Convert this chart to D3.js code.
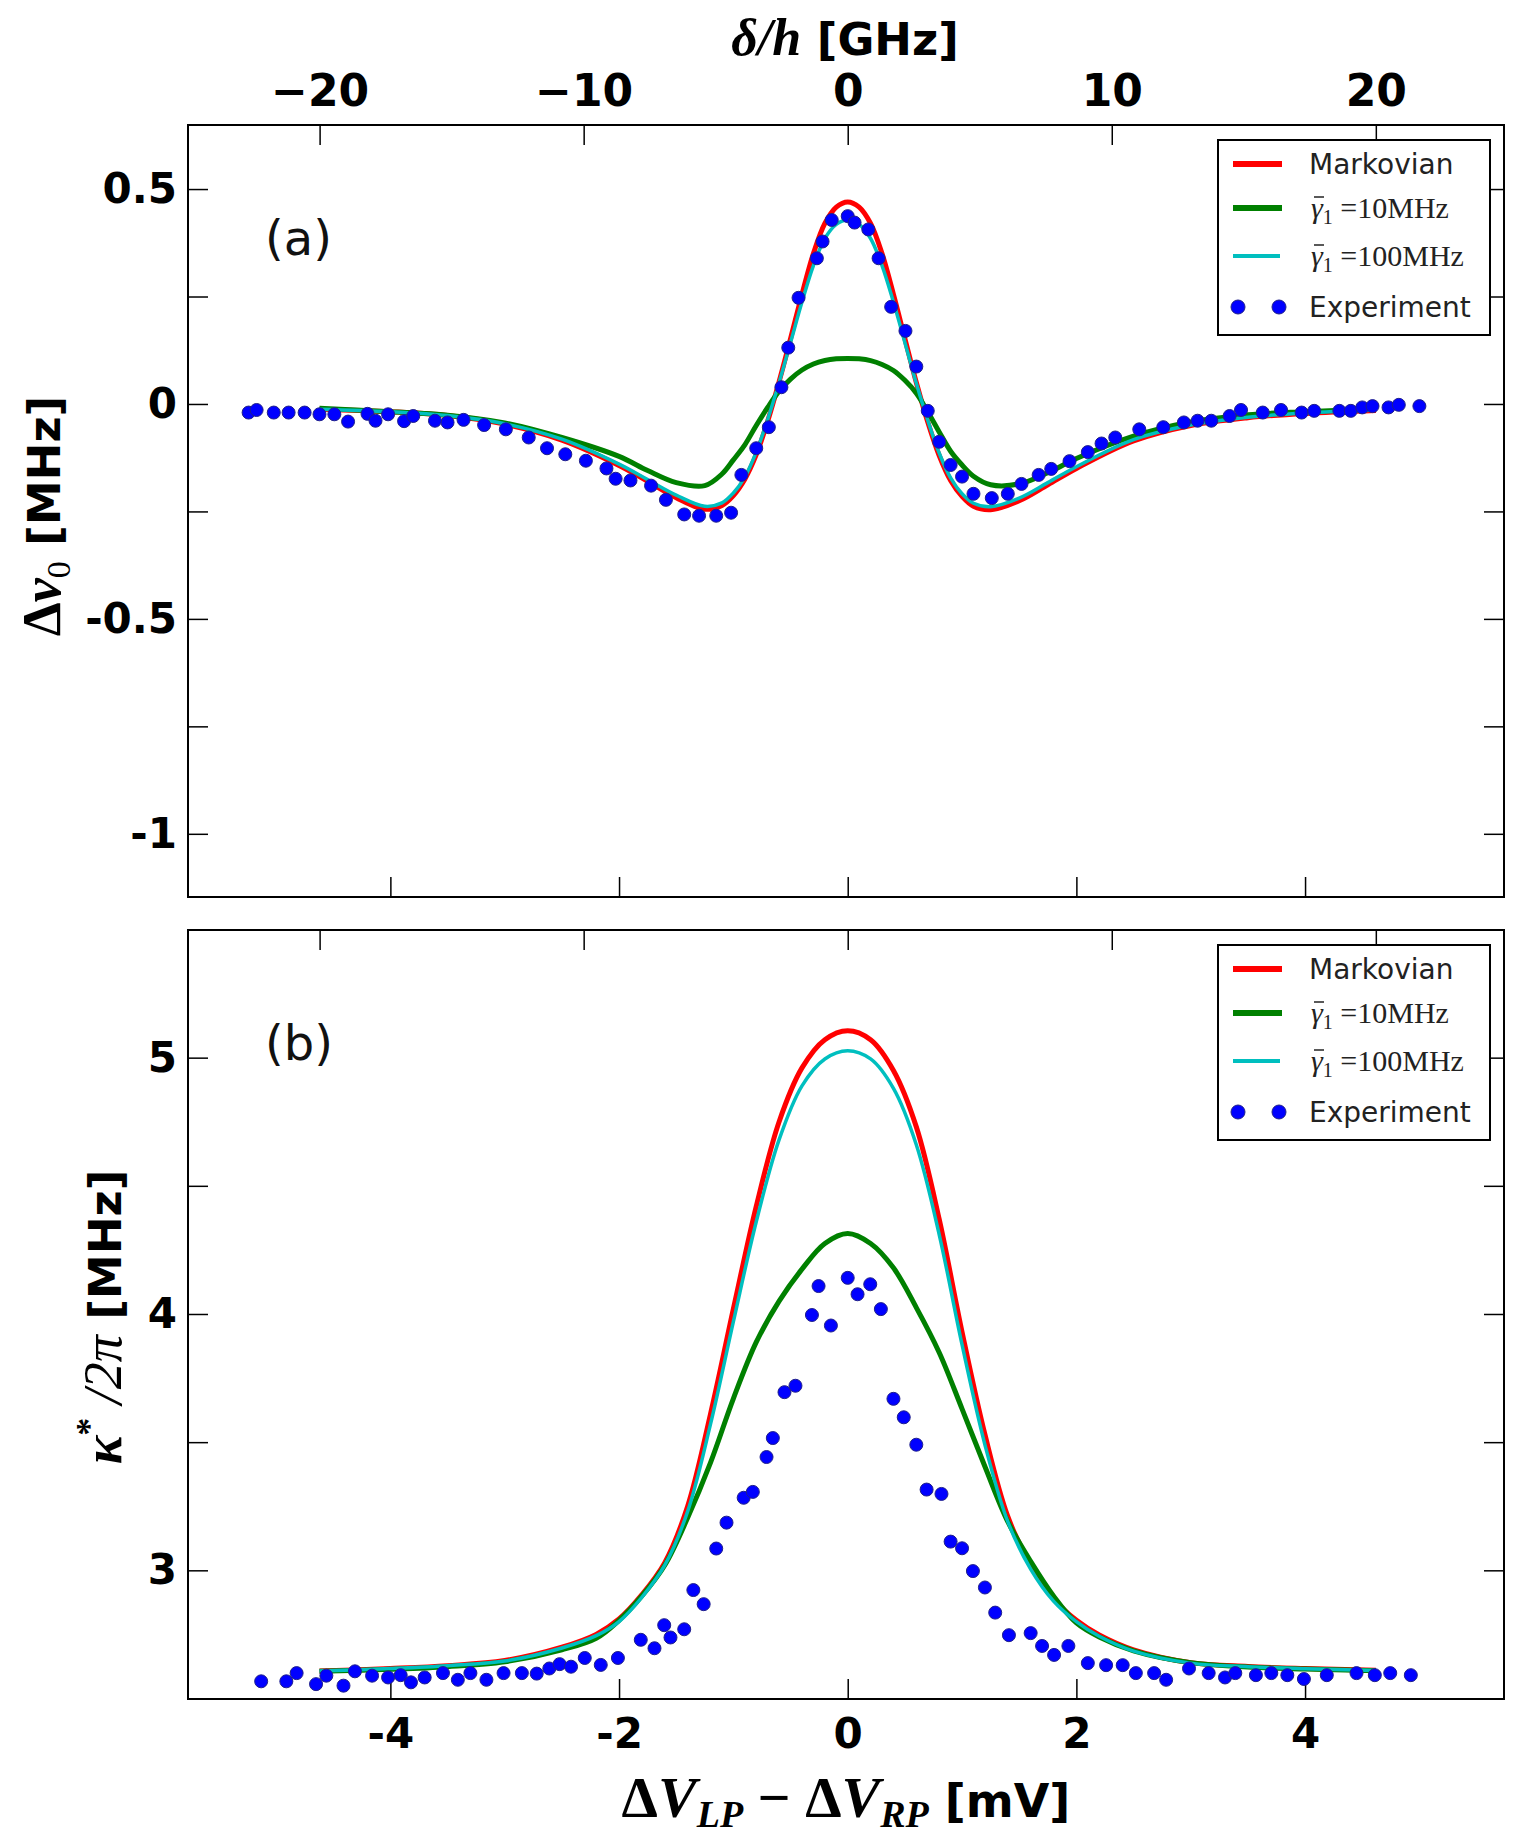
<!DOCTYPE html>
<html>
<head>
<meta charset="utf-8">
<script src="https://cdn.jsdelivr.net/npm/d3@7"></script>
<style>
  html, body { margin: 0; padding: 0; background: #fff; }
  svg { display: block; }
  text { white-space: pre; }
</style>
</head>
<body>
<div id="chart"></div>
<script>
// --- data (x in mV) ---
var GHZ_PER_MV = 4.33;
var MV_TICKS = [-4, -2, 0, 2, 4];
var GHZ_TICKS = [-20, -10, 0, 10, 20];
var TOP_Y_TICKS = [-1, -0.75, -0.5, -0.25, 0, 0.25, 0.5];
var BOT_Y_TICKS = [3, 3.5, 4, 4.5, 5];
var SERIES = ["Markovian", "10MHz", "100MHz", "Experiment"];

// panel (a): frequency shift
var TOP_X = [-4.62,-4.0,-3.5,-3.0,-2.5,-2.0,-1.75,-1.5,-1.25,-1.1,-1.0,-0.9,-0.8,-0.7,-0.6,-0.5,-0.4,-0.3,-0.2,-0.1,0,
             0.1,0.2,0.3,0.4,0.5,0.6,0.7,0.8,0.9,1.0,1.1,1.25,1.5,1.75,2.0,2.5,3.0,3.5,4.0,4.62];
var TOP_MARKOV = [-0.012,-0.018,-0.027,-0.047,-0.084,-0.143,-0.180,-0.218,-0.245,-0.236,-0.213,-0.175,-0.118,-0.040,0.052,0.152,0.255,0.350,0.420,0.458,0.470,
                  0.458,0.420,0.350,0.255,0.152,0.050,-0.042,-0.120,-0.178,-0.215,-0.238,-0.246,-0.225,-0.188,-0.150,-0.086,-0.050,-0.032,-0.022,-0.015];
var TOP_G10 = [-0.010,-0.018,-0.026,-0.044,-0.078,-0.122,-0.155,-0.183,-0.190,-0.163,-0.130,-0.095,-0.050,-0.008,0.030,0.058,0.079,0.093,0.101,0.105,0.106,
               0.105,0.101,0.092,0.078,0.055,0.025,-0.018,-0.065,-0.110,-0.142,-0.168,-0.188,-0.186,-0.160,-0.127,-0.075,-0.042,-0.025,-0.018,-0.012];
var TOP_G100 = [-0.012,-0.018,-0.027,-0.046,-0.082,-0.140,-0.176,-0.212,-0.238,-0.230,-0.207,-0.170,-0.112,-0.036,0.050,0.143,0.237,0.322,0.385,0.418,0.428,
                0.418,0.385,0.322,0.237,0.143,0.048,-0.038,-0.114,-0.172,-0.209,-0.231,-0.239,-0.219,-0.183,-0.146,-0.083,-0.049,-0.031,-0.021,-0.014];
var TOP_EXP_X = [-5.24,-5.17,-5.02,-4.89,-4.75,-4.62,-4.49,-4.37,-4.20,-4.13,-4.02,-3.88,-3.80,-3.61,-3.50,-3.36,-3.18,-2.99,-2.79,-2.63,
                 -2.47,-2.29,-2.11,-2.03,-1.90,-1.72,-1.59,-1.43,-1.30,-1.15,-1.02,-0.93,-0.80,-0.69,-0.58,-0.52,-0.43,-0.27,-0.22,-0.14,
                 0.00,0.06,0.18,0.27,0.38,0.505,0.60,0.70,0.80,0.90,1.00,1.10,1.26,1.40,1.52,1.67,1.78,1.94,2.10,2.22,
                 2.34,2.55,2.76,2.94,3.06,3.18,3.34,3.44,3.63,3.79,3.97,4.08,4.30,4.40,4.50,4.59,4.73,4.82,5.00];
var TOP_EXP_Y = [-0.020,-0.014,-0.020,-0.020,-0.020,-0.024,-0.024,-0.041,-0.023,-0.039,-0.024,-0.040,-0.028,-0.039,-0.043,-0.037,-0.049,-0.059,-0.078,-0.103,
                 -0.117,-0.132,-0.150,-0.174,-0.178,-0.190,-0.223,-0.257,-0.260,-0.260,-0.253,-0.165,-0.103,-0.054,0.039,0.131,0.247,0.339,0.378,0.428,
                 0.437,0.422,0.406,0.339,0.226,0.170,0.087,-0.016,-0.088,-0.142,-0.169,-0.209,-0.219,-0.209,-0.186,-0.165,-0.151,-0.133,-0.112,-0.092,
                 -0.078,-0.059,-0.054,-0.043,-0.039,-0.039,-0.028,-0.014,-0.020,-0.014,-0.020,-0.016,-0.016,-0.016,-0.008,-0.005,-0.008,-0.002,-0.005];

// panel (b): linewidth
var BOT_X = [-4.62,-4,-3.5,-3,-2.5,-2.2,-2,-1.8,-1.6,-1.4,-1.2,-1,-0.8,-0.6,-0.4,-0.2,0,
             0.2,0.4,0.6,0.8,1,1.2,1.4,1.6,1.8,2,2.2,2.5,3,3.5,4,4.62];
var BOT_MARKOV = [2.607,2.617,2.628,2.648,2.700,2.750,2.810,2.905,3.030,3.250,3.610,4.020,4.420,4.750,4.960,5.070,5.105,
                  5.070,4.950,4.730,4.370,3.930,3.530,3.210,3.020,2.890,2.805,2.748,2.690,2.640,2.625,2.617,2.610];
var BOT_G10 = [2.606,2.614,2.624,2.643,2.690,2.735,2.805,2.900,3.020,3.205,3.420,3.670,3.890,4.050,4.175,4.275,4.314,
               4.275,4.180,4.025,3.850,3.630,3.405,3.190,3.035,2.900,2.795,2.740,2.686,2.640,2.623,2.615,2.608];
var BOT_G100 = [2.607,2.617,2.628,2.646,2.697,2.745,2.800,2.895,3.020,3.230,3.570,3.970,4.360,4.680,4.890,4.995,5.027,
                4.995,4.880,4.660,4.310,3.880,3.490,3.190,3.005,2.880,2.800,2.743,2.685,2.638,2.624,2.616,2.609];
var BOT_EXP_X = [-5.13,-4.91,-4.82,-4.65,-4.56,-4.41,-4.31,-4.16,-4.02,-3.91,-3.82,-3.70,-3.54,-3.41,-3.30,-3.16,-3.01,-2.85,-2.72,-2.61,
                 -2.52,-2.42,-2.30,-2.16,-2.01,-1.81,-1.69,-1.605,-1.55,-1.43,-1.35,-1.26,-1.15,-1.06,-0.91,-0.83,-0.71,-0.655,-0.553,-0.457,
                 -0.313,-0.255,-0.147,0.0,0.086,0.197,0.29,0.40,0.49,0.60,0.69,0.82,0.90,1.00,1.095,1.20,1.29,1.41,1.60,1.70,
                 1.805,1.93,2.10,2.26,2.405,2.52,2.68,2.785,2.985,3.157,3.30,3.39,3.57,3.705,3.845,3.99,4.19,4.45,4.61,4.745,4.925];
var BOT_EXP_Y = [2.567,2.567,2.599,2.556,2.589,2.550,2.606,2.589,2.582,2.591,2.563,2.582,2.599,2.573,2.599,2.573,2.599,2.599,2.597,2.617,
                 2.634,2.624,2.658,2.631,2.658,2.729,2.696,2.786,2.738,2.770,2.923,2.868,3.085,3.186,3.283,3.306,3.442,3.516,3.695,3.720,
                 3.996,4.109,3.955,4.141,4.077,4.116,4.019,3.669,3.597,3.490,3.315,3.298,3.112,3.086,2.997,2.933,2.835,2.747,2.755,2.705,
                 2.670,2.705,2.638,2.630,2.630,2.599,2.599,2.573,2.617,2.599,2.582,2.599,2.591,2.599,2.591,2.576,2.591,2.599,2.591,2.599,2.591];

var COLORS = ["#ff0000", "#008000", "#00bfbf", "#0000ff"];
var WIDTHS = [5, 5, 3.5];

var svg = d3.select("#chart")
  .append("svg")
    .attr("width", 1517)
    .attr("height", 1844);

var x = d3.scaleLinear().domain([-5.77, 5.74]).range([188, 1504]);
var xG = d3.scaleLinear().domain([-5.77 * GHZ_PER_MV, 5.74 * GHZ_PER_MV]).range([188, 1504]);

function styleAxis(g) {
  g.attr("font-family", "DejaVu Sans").attr("font-weight", "bold").attr("font-size", 42);
  g.select(".domain").remove();
  g.selectAll(".tick line").attr("stroke", "#000").attr("stroke-width", 1.5);
  g.selectAll(".tick text").attr("fill", "#000");
}

function panel(opts) {
  var y = d3.scaleLinear().domain(opts.domain).range([opts.bottom, opts.top]);

  svg.append("g")
    .attr("transform", "translate(0," + opts.bottom + ")")
    .call(d3.axisBottom(x).tickValues(MV_TICKS).tickSize(-20).tickPadding(19)
      .tickFormat(d => opts.xLabels ? String(d) : ""))
    .call(styleAxis);
  svg.append("g")
    .attr("transform", "translate(0," + opts.top + ")")
    .call(d3.axisTop(xG).tickValues(GHZ_TICKS).tickSize(-20).tickPadding(19)
      .tickFormat(d => opts.gLabels ? (d < 0 ? "\u2212" + (-d) : String(d)) : ""))
    .call(styleAxis)
    .attr("font-size", 44);
  svg.append("g")
    .attr("transform", "translate(188,0)")
    .call(d3.axisLeft(y).tickValues(opts.yTicks).tickSize(-20).tickPadding(11)
      .tickFormat(opts.yFormat))
    .call(styleAxis);
  svg.append("g")
    .attr("transform", "translate(1504,0)")
    .call(d3.axisRight(y).tickValues(opts.yTicks).tickSize(-20).tickFormat(""))
    .call(styleAxis);

  var line = d3.line()
    .x(d => x(d[0]))
    .y(d => y(d[1]))
    .curve(d3.curveCatmullRom.alpha(0.5));

  opts.lines.forEach(function(vals, i) {
    svg.append("path")
      .datum(d3.zip(opts.lx, vals))
      .attr("fill", "none")
      .attr("stroke", COLORS[i])
      .attr("stroke-width", WIDTHS[i])
      .attr("stroke-linejoin", "round")
      .attr("d", line);
  });

  svg.append("g")
    .selectAll("circle")
    .data(d3.zip(opts.ex, opts.ey))
    .join("circle")
      .attr("cx", d => x(d[0]))
      .attr("cy", d => y(d[1]))
      .attr("r", 6.5)
      .attr("fill", COLORS[3])
      .attr("stroke", "#20208a")
      .attr("stroke-width", 1);

  svg.append("rect")
    .attr("x", 188).attr("y", opts.top)
    .attr("width", 1504 - 188).attr("height", opts.bottom - opts.top)
    .attr("fill", "none").attr("stroke", "#000").attr("stroke-width", 2);

  svg.append("text")
    .attr("x", 265).attr("y", opts.top + 130)
    .attr("font-family", "DejaVu Sans").attr("font-size", 48).attr("fill", "#111")
    .text(opts.tag);

  legend(opts.legendTop);
}

function legend(top) {
  var g = svg.append("g");
  g.append("rect")
    .attr("x", 1218).attr("y", top).attr("width", 272).attr("height", 195)
    .attr("fill", "#fff").attr("stroke", "#000").attr("stroke-width", 2);
  var rows = [24, 68, 116, 167];
  SERIES.forEach(function(name, i) {
    var ry = top + rows[i];
    if (i < 3) {
      g.append("line")
        .attr("x1", 1233).attr("x2", i == 2 ? 1280 : 1282)
        .attr("y1", ry).attr("y2", ry)
        .attr("stroke", COLORS[i]).attr("stroke-width", i == 2 ? 4 : 6);
    } else {
      [1238, 1279].forEach(cx => g.append("circle")
        .attr("cx", cx).attr("cy", ry).attr("r", 7)
        .attr("fill", COLORS[3]).attr("stroke", "#20208a"));
    }
    if (i == 0 || i == 3) {
      g.append("text").attr("x", 1309).attr("y", ry + 10).attr("fill", "#222")
        .attr("font-family", "DejaVu Sans").attr("font-size", 28).text(name);
    } else {
      var t = g.append("text").attr("x", 1311).attr("y", ry + 10).attr("fill", "#222")
        .attr("font-family", "Liberation Serif").attr("font-size", 30);
      t.append("tspan").attr("font-style", "italic").text("\u03B3");
      t.append("tspan").attr("font-size", 20).attr("dy", 6).text("1");
      t.append("tspan").attr("dy", -6).text(" =" + name);
      // bar over gamma
      g.append("line")
        .attr("x1", 1314).attr("x2", 1324)
        .attr("y1", ry - 11).attr("y2", ry - 11)
        .attr("stroke", "#222").attr("stroke-width", 1.5);
    }
  });
}

panel({
  top: 125, bottom: 897, domain: [-1.147, 0.649],
  yTicks: TOP_Y_TICKS,
  yFormat: d => Math.abs(d * 2 - Math.round(d * 2)) < 1e-9 ? String(d) : "",
  xLabels: false, gLabels: true,
  lx: TOP_X, lines: [TOP_MARKOV, TOP_G10, TOP_G100],
  ex: TOP_EXP_X, ey: TOP_EXP_Y,
  tag: "(a)", legendTop: 140
});

panel({
  top: 930, bottom: 1699, domain: [2.498, 5.498],
  yTicks: BOT_Y_TICKS,
  yFormat: d => Number.isInteger(d) ? String(d) : "",
  xLabels: true, gLabels: false,
  lx: BOT_X, lines: [BOT_MARKOV, BOT_G10, BOT_G100],
  ex: BOT_EXP_X, ey: BOT_EXP_Y,
  tag: "(b)", legendTop: 945
});

// axis titles
var tt = svg.append("text").attr("x", 845).attr("y", 55).attr("text-anchor", "middle").attr("fill", "#000");
tt.append("tspan").attr("font-family", "Liberation Serif").attr("font-style", "italic").attr("font-weight", "bold")
  .attr("font-size", 52).text("\u03B4/h");
tt.append("tspan").attr("font-family", "DejaVu Sans").attr("font-weight", "bold").attr("font-size", 45).text(" [GHz]");

var bt = svg.append("text").attr("x", 846).attr("y", 1817).attr("text-anchor", "middle").attr("fill", "#000")
  .attr("font-family", "Liberation Serif").attr("font-weight", "bold").attr("font-size", 58);
bt.append("tspan").text("\u0394");
bt.append("tspan").attr("font-style", "italic").text("V");
bt.append("tspan").attr("font-style", "italic").attr("font-size", 38).attr("dy", 10).text("LP");
bt.append("tspan").attr("dy", -10).text(" \u2212 \u0394");
bt.append("tspan").attr("font-style", "italic").text("V");
bt.append("tspan").attr("font-style", "italic").attr("font-size", 38).attr("dy", 10).text("RP");
bt.append("tspan").attr("dy", -10).attr("font-family", "DejaVu Sans").attr("font-size", 46).text(" [mV]");

var ly = svg.append("text").attr("transform", "translate(60,516) rotate(-90)")
  .attr("text-anchor", "middle").attr("fill", "#000").attr("font-family", "Liberation Serif").attr("font-size", 54);
ly.append("tspan").attr("font-weight", "bold").text("\u0394");
ly.append("tspan").attr("font-style", "italic").attr("font-weight", "bold").text("\u03BD");
ly.append("tspan").attr("font-size", 34).attr("dy", 10).text("0");
ly.append("tspan").attr("dy", -10).attr("font-family", "DejaVu Sans").attr("font-weight", "bold").attr("font-size", 45).text(" [MHz]");

var ly2 = svg.append("text").attr("transform", "translate(121,1317) rotate(-90)")
  .attr("text-anchor", "middle").attr("fill", "#000").attr("font-family", "Liberation Serif").attr("font-size", 54);
ly2.append("tspan").attr("font-style", "italic").attr("font-weight", "bold").text("\u03BA");
ly2.append("tspan").attr("font-size", 36).attr("font-weight", "bold").attr("dy", -20).text("*");
ly2.append("tspan").attr("font-style", "italic").attr("dy", 20).text(" /2\u03C0");
ly2.append("tspan").attr("font-family", "DejaVu Sans").attr("font-weight", "bold").attr("font-size", 45).text(" [MHz]");
</script>
</body>
</html>
